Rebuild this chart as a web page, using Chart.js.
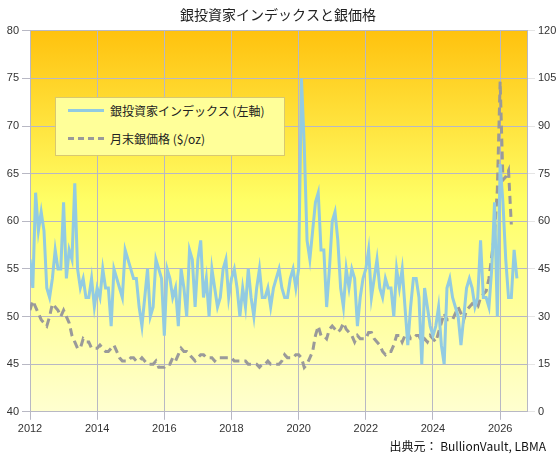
<!DOCTYPE html>
<html>
<head>
<meta charset="utf-8">
<script src="https://cdn.jsdelivr.net/npm/chart.js@4"></script>
<style>
  body { margin: 0; background: #fff; font-family: "Noto Sans CJK JP", "Noto Sans", sans-serif; }
  #wrap { position: relative; width: 558px; height: 461px; }
  #legendBox { position: absolute; left: 55px; top: 97px; width: 228px; height: 57px; background: #ffff99; border: 1px solid #d8c870; font-size: 12px; color: #222; }
  .row { position: absolute; left: 12px; display: flex; align-items: center; }
  .sw { width: 36px; margin-right: 6px; }
  #source { position: absolute; right: 12px; top: 437px; font-size: 12px; color: #111; }
</style>
</head>
<body>
<div id="wrap">
  <canvas id="chart" width="558" height="461"></canvas>
  <div id="legendBox">
    <div class="row" style="top:4px"><div class="sw" style="border-top:3px solid #92cbe2"></div>銀投資家インデックス (左軸)</div>
    <div class="row" style="top:32px"><div class="sw" style="border-top:3px dashed #9a9a9a"></div>月末銀価格 ($/oz)</div>
  </div>
  <div id="source">出典元： BullionVault, LBMA</div>
</div>
<script>
// monthly values from Jan 2012
const startYear = 2012;
const yearTicks = [2012, 2014, 2016, 2018, 2020, 2022, 2024, 2026];
const indexValues = [
  56,53,63,59,61,59,53,52,54,57,55,55,
  62,54,57,56,64,55,53,54,52,52,54,51,
  53,52,55,53,53,49,55,54,53,52,57,56,
  55,54,54,51,49,52,55,50,51,56,55,54,
  48,55,54,52,53,49,55,53,50,57,56,51,
  56,58,52,54,50,55,53,51,52,55,56,52,
  54,55,53,50,53,51,55,52,50,53,55,52,
  52,53,51,53,54,55,53,52,52,54,55,53,
  55,75,68,58,56,59,62,63,57,57,51,55,
  60,61,58,53,51,55,53,55,54,49,52,54,
  55,57,52,54,56,53,52,54,53,53,50,55,
  53,55,51,47,51,54,54,52,45,53,51,49,
  48,49,51,47,45,53,54,52,51,50,47,50,
  53,54,53,51,52,58,52,52,51,55,62,50,
  66,62,56,52,52,57,54
];
const silverValues = [
  32,35,33,31,29,28,27,30,34,33,32,30,
  32,30,28,24,22,20,20,23,22,22,20,20,
  20,21,20,19,19,20,21,19,17,16,16,16,
  17,17,16,16,17,16,15,15,15,16,14,14,
  14,15,15,17,16,18,20,19,19,18,17,16,
  17,18,18,17,17,17,16,17,17,17,17,17,
  17,16,16,16,16,16,15,15,15,15,14,15,
  15,16,15,15,15,15,16,18,17,17,17,18,
  18,17,14,15,17,19,24,27,24,24,23,26,
  27,26,25,26,28,26,25,24,22,24,23,23,
  23,25,25,23,22,21,19,18,19,19,21,24,
  24,22,24,25,23,23,24,24,22,23,22,24,
  23,22,25,28,31,29,29,29,31,33,31,29,
  32,33,34,33,33,36,37,38,42,49,56,70,
  104,73,74,76,59
];
const toPoints = vals => vals.map((v, i) => ({ x: startYear + i / 12, y: v }));

const bgPlugin = {
  id: "bg",
  beforeDraw(chart) {
    const { ctx, chartArea: a } = chart;
    const g = ctx.createLinearGradient(0, a.top, 0, a.bottom);
    g.addColorStop(0, "#ffc20e");
    g.addColorStop(0.45, "#ffff66");
    g.addColorStop(1, "#ffffd0");
    ctx.save();
    ctx.fillStyle = g;
    ctx.fillRect(a.left, a.top, a.right - a.left, a.bottom - a.top);
    ctx.restore();
  }
};

new Chart(document.getElementById("chart").getContext("2d"), {
  type: "line",
  data: {
    datasets: [
      { label: "銀投資家インデックス (左軸)", data: toPoints(indexValues), yAxisID: "y",
        borderColor: "#92cbe2", borderWidth: 3, pointRadius: 0, tension: 0 },
      { label: "月末銀価格 ($/oz)", data: toPoints(silverValues), yAxisID: "y1",
        borderColor: "#9a9a9a", borderWidth: 3, borderDash: [8, 5], pointRadius: 0, tension: 0 }
    ]
  },
  options: {
    responsive: false,
    animation: false,
    layout: { padding: { right: 2, bottom: 22 } },
    plugins: {
      legend: { display: false },
      tooltip: { enabled: false },
      title: { display: true, text: "銀投資家インデックスと銀価格", color: "#222",
        font: { size: 14, family: "Noto Sans CJK JP", weight: "normal" }, padding: { top: 6, bottom: 8 } }
    },
    scales: {
      x: { type: "linear", min: 2012, max: 2026.8,
        afterBuildTicks: s => { s.ticks = yearTicks.map(v => ({ value: v })); },
        ticks: { color: "#333", font: { size: 11 }, callback: v => String(v) },
        grid: { color: "#b8b8c4" }, border: { color: "#b8b8c4" } },
      y: { position: "left", min: 40, max: 80,
        ticks: { stepSize: 5, color: "#333", font: { size: 11 } },
        grid: { color: "#b8b8c4" }, border: { color: "#b8b8c4" },
        afterFit: s => { s.width = 30; } },
      y1: { position: "right", min: 0, max: 120,
        ticks: { stepSize: 15, color: "#333", font: { size: 11 } },
        grid: { drawOnChartArea: false }, border: { color: "#b8b8c4" },
        afterFit: s => { s.width = 29; } }
    }
  },
  plugins: [bgPlugin]
});
</script>
</body>
</html>
